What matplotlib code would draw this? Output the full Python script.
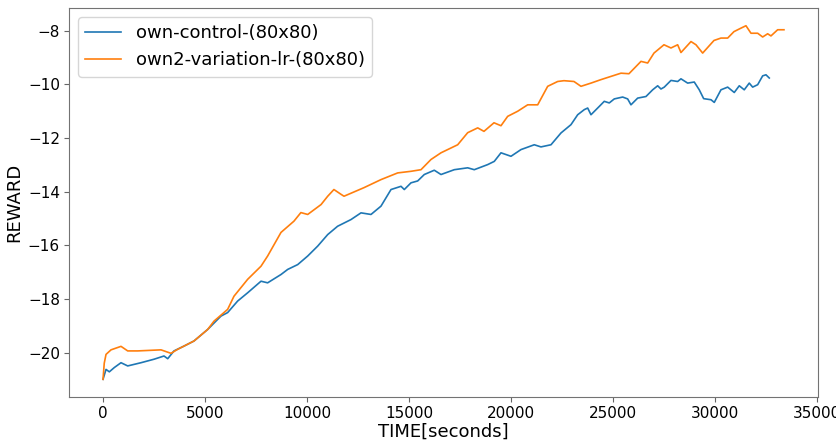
import matplotlib
matplotlib.use('Agg')
import matplotlib.pyplot as plt

# values
control_time = [0, 147, 309, 554, 882, 1210, 1863, 2500, 2990, 3172, 3480, 3970, 4460,
                5130, 5784, 6110, 6600, 7093, 7745, 8070, 8725, 9054, 9544, 10035, 10525,
                11015, 11500, 12157, 12647, 13137, 13627, 14118, 14608, 14770, 15098,
                15426, 15750, 16240, 16569, 17221, 17877, 18200, 18858, 19181, 19510,
                20000, 20490, 21142, 21470, 21961, 22451, 22941, 23270, 23593, 23760,
                23922, 24328, 24573, 24818, 25064, 25475, 25720, 25882, 26210, 26618,
                26946, 27191, 27353, 27515, 27843, 28171, 28333, 28661, 28985, 29230,
                29446, 29804, 29966, 30294, 30623, 30946, 31191, 31436, 31681, 31848,
                32093, 32338, 32500, 32662]
control_reward = [-21.0, -20.63, -20.72, -20.56, -20.38, -20.5, -20.38, -20.25, -20.13,
                  -20.23, -19.94, -19.76, -19.57, -19.14, -18.64, -18.51, -18.08, -17.77,
                  -17.34, -17.4, -17.09, -16.9, -16.72, -16.4, -16.03, -15.6, -15.29,
                  -15.04, -14.79, -14.85, -14.54, -13.92, -13.8, -13.92, -13.67, -13.6,
                  -13.36, -13.2, -13.36, -13.18, -13.11, -13.18, -12.99, -12.87, -12.55,
                  -12.68, -12.43, -12.25, -12.33, -12.25, -11.81, -11.5, -11.13, -10.94,
                  -10.88, -11.13, -10.82, -10.63, -10.69, -10.54, -10.47, -10.54, -10.76,
                  -10.51, -10.45, -10.2, -10.05, -10.17, -10.1, -9.85, -9.89, -9.79,
                  -9.95, -9.91, -10.2, -10.53, -10.57, -10.67, -10.2, -10.1, -10.3,
                  -10.05, -10.2, -9.95, -10.1, -10.01, -9.68, -9.64, -9.76]

variation_time = [0, 60, 147, 392, 882, 1210, 1700, 2843, 3333, 3660, 4460, 5130, 5440,
                  6110, 6420, 7090, 7745, 8070, 8725, 9360, 9700, 10035, 10690, 11015,
                  11320, 11670, 11814, 12794, 13627, 14446, 15098, 15588, 16078, 16569,
                  17387, 17877, 18368, 18676, 19167, 19510, 19838, 20328, 20818, 21309,
                  21799, 22289, 22598, 23088, 23431, 23922, 24412, 24902, 25392, 25784,
                  26373, 26701, 27010, 27500, 27843, 28171, 28333, 28824, 29069, 29397,
                  29951, 30294, 30623, 30931, 31274, 31520, 31765, 32093, 32338, 32583,
                  32745, 33073, 33382]
variation_reward = [-21.0, -20.4, -20.07, -19.9, -19.77, -19.94, -19.94, -19.9, -20.03,
                    -19.88, -19.57, -19.14, -18.83, -18.39, -17.9, -17.27, -16.78, -16.4,
                    -15.52, -15.1, -14.78, -14.85, -14.48, -14.17, -13.92, -14.1, -14.17,
                    -13.85, -13.55, -13.3, -13.24, -13.18, -12.8, -12.55, -12.25, -11.8,
                    -11.62, -11.75, -11.43, -11.54, -11.19, -11.0, -10.76, -10.76, -10.07,
                    -9.89, -9.86, -9.89, -10.07, -9.95, -9.82, -9.7, -9.58, -9.6, -9.14,
                    -9.2, -8.83, -8.52, -8.64, -8.52, -8.81, -8.4, -8.52, -8.83, -8.36,
                    -8.27, -8.27, -8.03, -7.9, -7.81, -8.09, -8.09, -8.23, -8.11, -8.19,
                    -7.96, -7.96]

labels = ['own-control-(80x80)', 'own2-variation-lr-(80x80)']

fig = plt.figure(figsize=(8.37, 4.4), dpi=100)
ax = fig.add_axes([0.0824, 0.0977, 0.8949, 0.884])

ax.plot(control_time, control_reward, color='#1f77b4', linewidth=1.2, label=labels[0])
ax.plot(variation_time, variation_reward, color='#ff7f0e', linewidth=1.2, label=labels[1])

ax.set_xlabel('TIME[seconds]', fontsize=13, labelpad=1)
ax.set_ylabel('REWARD', fontsize=13, labelpad=3)
ax.tick_params(labelsize=11, color='0.4', pad=3)
for s in ax.spines.values():
    s.set_color('0.45')

ax.legend(loc='upper left', fontsize=13)

plt.savefig('out.png', dpi=100)
